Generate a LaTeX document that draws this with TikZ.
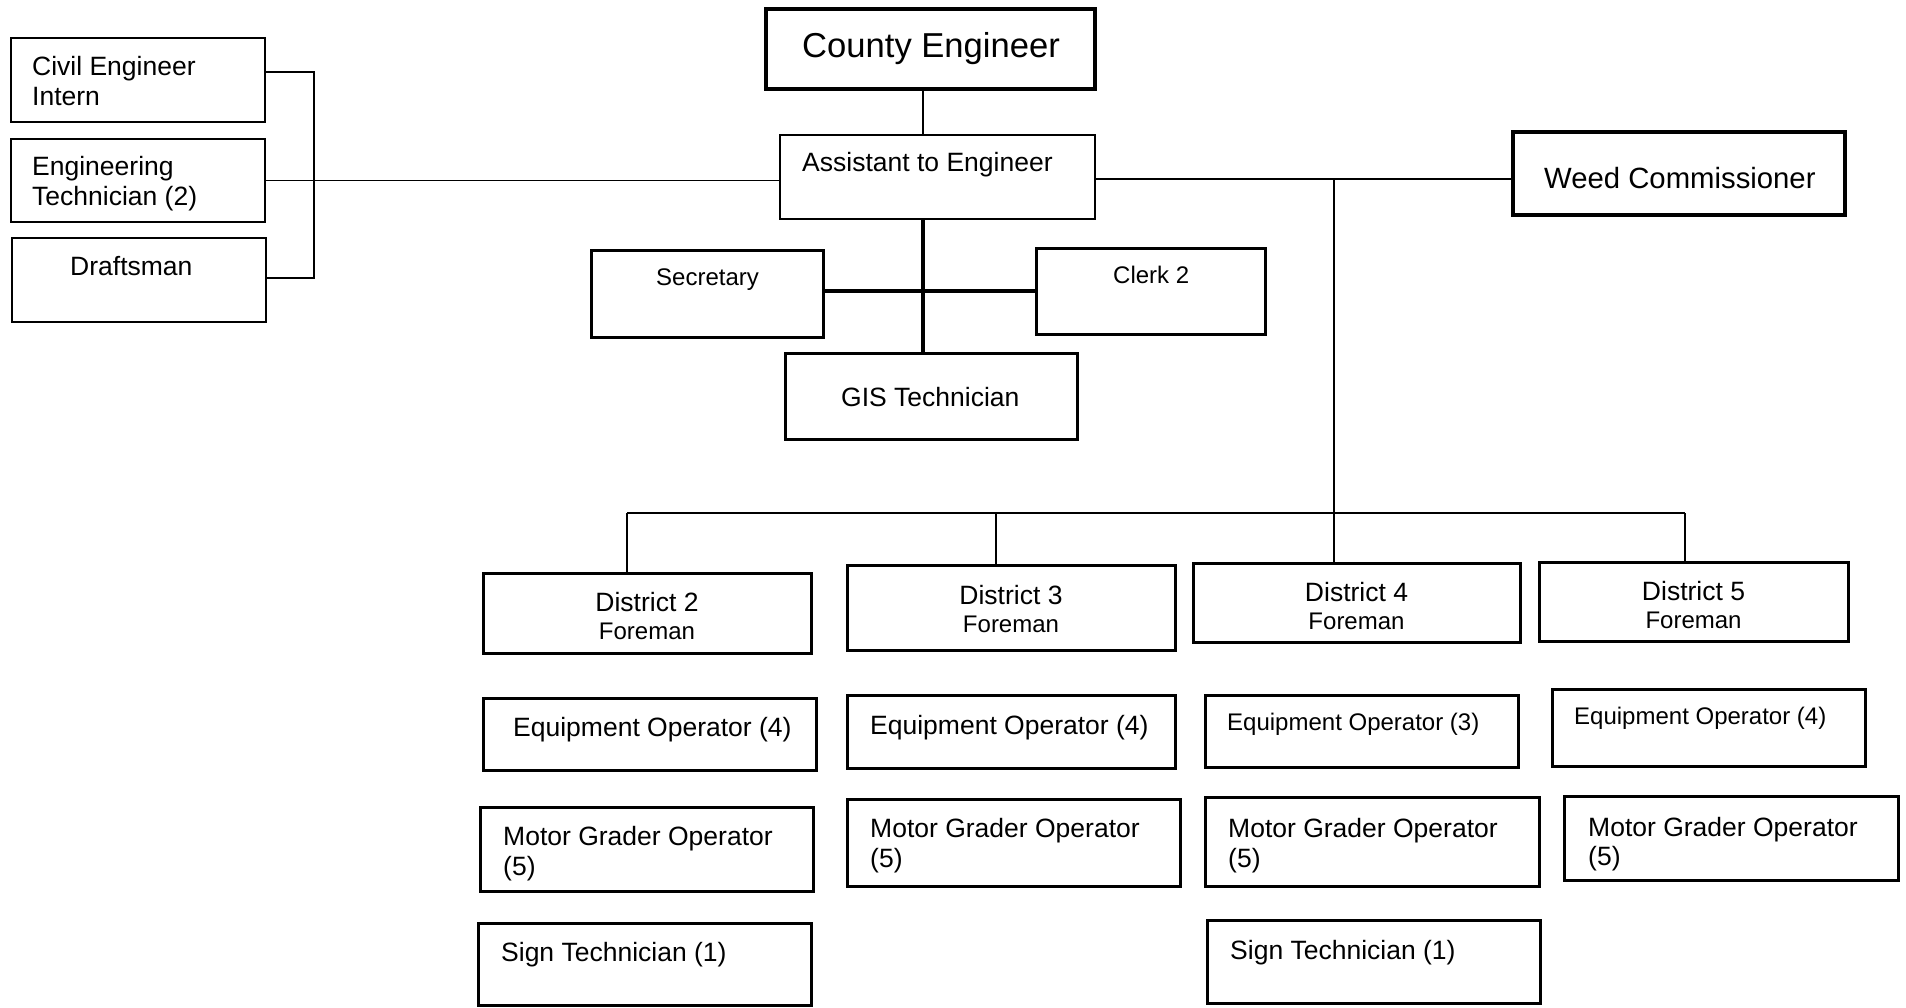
\documentclass[tikz,border=0pt]{standalone}
\usepackage{fontspec}
\setmainfont{Liberation Sans}
\usetikzlibrary{fit}
\tikzset{
  box/.style={draw, inner sep=0pt, line width=3pt},
  thinbox/.style={draw, inner sep=0pt, line width=1.6pt},
  heavybox/.style={draw, inner sep=0pt, line width=4.5pt},
  lbl/.style={inner sep=0pt, anchor=base west, font=\fontsize{26.5}{30}\selectfont},
  lblc/.style={lbl, anchor=base},
  smalltext/.style={font=\fontsize{24}{28}\selectfont},
  link/.style={line width=1.6pt},
  boldlink/.style={line width=3.2pt},
}
\begin{document}
\begin{tikzpicture}[x=1pt,y=-1pt]
\useasboundingbox (0,0) rectangle (1906,1007);

% ---- boxes ----
\node[thinbox, fit={(11,38)(265,122)}] (cei) {};
\node[thinbox, fit={(11,139)(265,222)}] (tech) {};
\node[thinbox, fit={(12,238)(266,322)}] (dra) {};
\node[heavybox, fit={(766,9)(1095,89)}] (ce) {};
\node[thinbox, fit={(780,135)(1095,219)}] (asst) {};
\node[heavybox, line width=3.8pt, fit={(1513,132)(1845,215)}] (weed) {};
\node[box, fit={(591,250)(823,337)}] (sec) {};
\node[box, fit={(1036,248)(1265,334)}] (clerk) {};
\node[box, fit={(785,353)(1077,439)}] (gis) {};
\node[box, fit={(483,573)(811,653)}] (d2) {};
\node[box, fit={(847,565)(1175,650)}] (d3) {};
\node[box, fit={(1193,563)(1520,642)}] (d4) {};
\node[box, fit={(1539,562)(1848,641)}] (d5) {};
\node[box, fit={(483,698)(816,770)}] (eo2) {};
\node[box, fit={(847,695)(1175,768)}] (eo3) {};
\node[box, fit={(1205,695)(1518,767)}] (eo4) {};
\node[box, fit={(1552,689)(1865,766)}] (eo5) {};
\node[box, fit={(480,807)(813,891)}] (mg2) {};
\node[box, fit={(847,799)(1180,886)}] (mg3) {};
\node[box, fit={(1205,797)(1539,886)}] (mg4) {};
\node[box, fit={(1564,796)(1898,880)}] (mg5) {};
\node[box, fit={(478,923)(811,1005)}] (st2) {};
\node[box, fit={(1207,920)(1540,1003)}] (st4) {};

% ---- labels ----
\node[lbl] (cei-a) at (32,75) {Civil Engineer};
\node[lbl] (cei-b) at (32,105.5) {Intern};
\node[lbl] (tech-a) at (32,175) {Engineering};
\node[lbl] (tech-b) at (32,205) {Technician (2)};
\node[lbl] (dra-a) at (70,275) {Draftsman};
\node[lbl, font=\fontsize{34.6}{40}\selectfont] (ce-a) at (802,57.5) {County Engineer};
\node[lbl] (asst-a) at (802,171) {Assistant to Engineer};
\node[lbl, font=\fontsize{29.3}{34}\selectfont] (weed-a) at (1544,188) {Weed Commissioner};
\node[lbl, smalltext] (sec-a) at (656,285.5) {Secretary};
\node[lbl, smalltext] (clerk-a) at (1113,283.5) {Clerk 2};
\node[lbl] (gis-a) at (841,406) {GIS Technician};

\node[lblc] (d2-a) at (d2.center |- 0,611) {District 2};
\node[lblc, smalltext] (d2-b) at (d2.center |- 0,639.5) {Foreman};
\node[lblc] (d3-a) at (d3.center |- 0,604) {District 3};
\node[lblc, smalltext] (d3-b) at (d3.center |- 0,632) {Foreman};
\node[lblc] (d4-a) at (d4.center |- 0,601.5) {District 4};
\node[lblc, smalltext] (d4-b) at (d4.center |- 0,629.5) {Foreman};
\node[lblc] (d5-a) at (d5.center |- 0,600.5) {District 5};
\node[lblc, smalltext] (d5-b) at (d5.center |- 0,628.5) {Foreman};

\node[lbl] (eo2-a) at (513,736.5) {Equipment Operator (4)};
\node[lbl] (eo3-a) at (870,734) {Equipment Operator (4)};
\node[lbl, smalltext] (eo4-a) at (1227,730.5) {Equipment Operator (3)};
\node[lbl, smalltext] (eo5-a) at (1574,724.5) {Equipment Operator (4)};

\node[lbl] (mg2-a) at (503,845.5) {Motor Grader Operator};
\node[lbl] (mg2-b) at (503,875) {(5)};
\node[lbl] (mg3-a) at (870,837.5) {Motor Grader Operator};
\node[lbl] (mg3-b) at (870,867.5) {(5)};
\node[lbl] (mg4-a) at (1228,837.5) {Motor Grader Operator};
\node[lbl] (mg4-b) at (1228,867.5) {(5)};
\node[lbl] (mg5-a) at (1588,836) {Motor Grader Operator};
\node[lbl] (mg5-b) at (1588,865.5) {(5)};

\node[lbl] (st2-a) at (501,961.5) {Sign Technician (1)};
\node[lbl] (st4-a) at (1230,959) {Sign Technician (1)};

% ---- junction points ----
\coordinate (spine) at (923,291);
\coordinate (brk) at (314,72);
\coordinate (hub) at (1334,179);
\coordinate (bus) at (1334,513);
\coordinate (drop2) at (627,513);
\coordinate (drop3) at (996,513);
\coordinate (drop5) at (1685,513);

% ---- connectors ----
\draw[link] (ce.south -| spine) -- (asst.north -| spine);
\draw[link] (tech.east) -- (tech.east -| asst.west);
\draw[link] (cei.east |- brk) -- (brk) -- (brk |- 0,278) -- (dra.east |- 0,278);
\draw[link] (asst.east |- hub) -- (hub) -- (hub -| weed.west);
\draw[link] (hub) -- (bus) -- (bus |- d4.north);
\draw[link] (drop2) -- (drop5);
\draw[link] (drop2) -- (drop2 |- d2.north);
\draw[link] (drop3) -- (drop3 |- d3.north);
\draw[link] (drop5) -- (drop5 |- d5.north);
\draw[boldlink] (asst.south -| spine) -- (gis.north -| spine);
\draw[boldlink] (sec.east |- spine) -- (spine -| clerk.west);
\end{tikzpicture}
\end{document}
